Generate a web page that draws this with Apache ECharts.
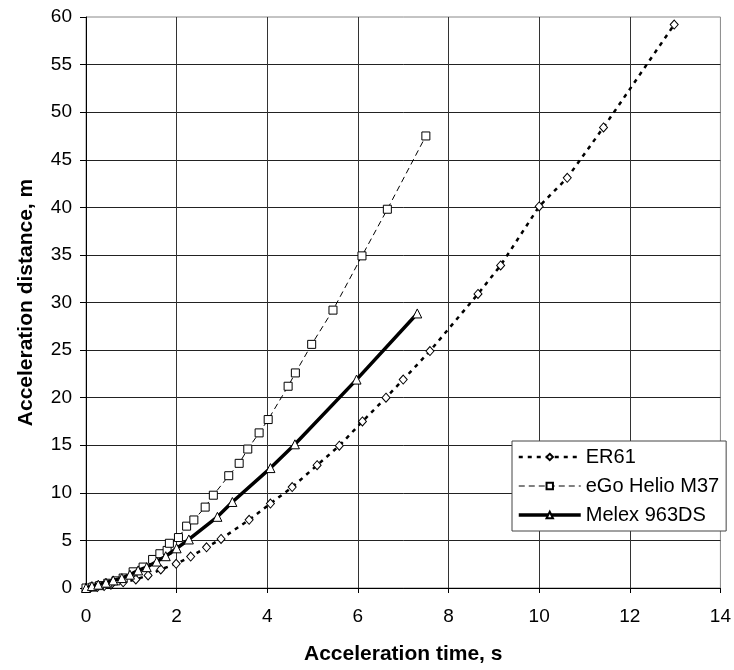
<!DOCTYPE html>
<html><head><meta charset="utf-8">
<script src="https://cdn.jsdelivr.net/npm/echarts@6/dist/echarts.min.js"></script>
<style>html,body{margin:0;padding:0;background:#fff}#c{width:734px;height:670px}</style>
</head><body><div id="c"></div>
<script>
const er61X = [0, 0.1, 0.25, 0.4, 0.55, 0.82, 1.1, 1.37, 1.65, 1.99, 2.31, 2.66, 2.98, 3.6, 4.07, 4.55, 5.1, 5.59, 6.1, 6.62, 7.0, 7.59, 8.65, 9.15, 10.0, 10.62, 11.42, 12.98];
const er61Y = [0, 0.05, 0.1, 0.2, 0.35, 0.6, 0.9, 1.32, 1.95, 2.54, 3.3, 4.28, 5.15, 7.16, 8.87, 10.6, 12.9, 14.95, 17.5, 20.0, 21.9, 24.9, 30.9, 33.9, 40.1, 43.1, 48.4, 59.2];
const egoX = [0, 0.15, 0.3, 0.48, 0.66, 0.82, 1.04, 1.26, 1.47, 1.63, 1.79, 1.84, 2.04, 2.22, 2.38, 2.63, 2.81, 3.15, 3.38, 3.57, 3.82, 4.02, 4.46, 4.62, 4.98, 5.45, 6.09, 6.65, 7.5];
const egoY = [0, 0.1, 0.25, 0.5, 0.75, 1.05, 1.7, 2.2, 3.0, 3.6, 3.95, 4.7, 5.3, 6.5, 7.15, 8.5, 9.75, 11.8, 13.1, 14.6, 16.3, 17.7, 21.2, 22.6, 25.6, 29.2, 34.9, 39.8, 47.5];
const melexX = [0, 0.13, 0.27, 0.44, 0.6, 0.79, 0.97, 1.15, 1.34, 1.56, 1.76, 2.0, 2.27, 2.9, 3.23, 4.07, 4.61, 5.97, 7.31];
const melexY = [0, 0.2, 0.35, 0.56, 0.8, 1.04, 1.4, 1.85, 2.19, 2.78, 3.34, 4.17, 5.1, 7.48, 9.04, 12.6, 15.1, 21.9, 28.85];
const seriesNames = ['ER61', 'eGo Helio M37', 'Melex 963DS'];
const xTicks = {min: 0, max: 14, step: 2};
const yTicks = {min: 0, max: 60, step: 5};

const pairs = (xs, ys) => xs.map((x, i) => [x, ys[i]]);
const font = 'Liberation Sans, Arial, sans-serif';
const chart = echarts.init(document.getElementById('c'), null, {renderer: 'canvas'});
const mk = {color: '#fff', borderColor: '#000', borderWidth: 1};
const styles = [
  {width: 2.5, type: [4, 5]},
  {width: 1, type: [6, 4]},
  {width: 3.5, type: 'solid'}
];
chart.setOption({
  animation: false,
  backgroundColor: '#fff',
  grid: {left: 86, right: 13, top: 17, bottom: 77, show: true, borderColor: '#888', borderWidth: 1},
  legend: {
    orient: 'vertical', left: 512, top: 441,
    backgroundColor: '#fff', borderColor: '#444', borderWidth: 1,
    padding: [6, 7, 6, 5], itemGap: 9, itemWidth: 62, itemHeight: 8,
    textStyle: {fontFamily: font, fontSize: 20, color: '#000', lineHeight: 20},
    data: seriesNames.map((n, i) => ({name: n, lineStyle: {color: '#000', width: styles[i].width, type: styles[i].type}}))
  },
  xAxis: {
    type: 'value', min: xTicks.min, max: xTicks.max, interval: xTicks.step,
    name: 'Acceleration time, s', nameLocation: 'middle', nameGap: 56,
    nameTextStyle: {fontFamily: font, fontSize: 21, fontWeight: 'bold', color: '#000'},
    axisLine: {show: true, onZero: false, lineStyle: {color: '#000', width: 1}},
    axisTick: {show: true, inside: false, length: 5, lineStyle: {color: '#000'}},
    axisLabel: {fontFamily: font, fontSize: 19, color: '#000', margin: 19},
    splitLine: {show: true, showMaxLine: false, lineStyle: {color: '#333', width: 1}}
  },
  yAxis: {
    type: 'value', min: yTicks.min, max: yTicks.max, interval: yTicks.step,
    name: 'Acceleration distance, m', nameLocation: 'middle', nameGap: 49,
    nameTextStyle: {fontFamily: font, fontSize: 21, fontWeight: 'bold', color: '#000'},
    axisLine: {show: true, onZero: false, lineStyle: {color: '#000', width: 1}},
    axisTick: {show: true, inside: false, length: 6, lineStyle: {color: '#000'}},
    axisLabel: {fontFamily: font, fontSize: 19, color: '#000', margin: 14},
    splitLine: {show: true, showMaxLine: false, lineStyle: {color: '#222', width: 1}}
  },
  series: [
    {name: seriesNames[0], type: 'line', data: pairs(er61X, er61Y), symbol: 'diamond', symbolSize: [8, 9],
     lineStyle: {color: '#000', width: styles[0].width, type: styles[0].type}, itemStyle: mk, color: '#000', z: 3},
    {name: seriesNames[1], type: 'line', data: pairs(egoX, egoY), symbol: 'rect', symbolSize: 8,
     lineStyle: {color: '#000', width: styles[1].width, type: styles[1].type}, itemStyle: mk, color: '#000', z: 4},
    {name: seriesNames[2], type: 'line', data: pairs(melexX, melexY), symbol: 'triangle', symbolSize: 9,
     lineStyle: {color: '#000', width: styles[2].width, type: styles[2].type}, itemStyle: mk, color: '#000', z: 5}
  ]
});
</script></body></html>
